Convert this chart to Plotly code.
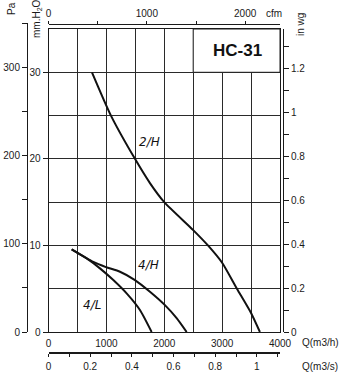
import plotly.graph_objects as go

# ---------------- data (flow Q in m3/h, pressure in mm H2O) ----------------
q_2H = [751, 1079, 1494, 1753, 2000, 2496, 2755, 3000, 3256, 3500, 3653]
p_2H = [30.0, 25.0, 20.0, 17.2, 15.0, 11.8, 10.0, 8.0, 5.0, 2.2, 0.0]

q_4H = [400, 774, 993, 1235, 1494, 1753, 2012, 2214, 2387]
p_4H = [9.55, 8.1, 7.5, 6.96, 6.0, 4.65, 3.1, 1.6, 0.0]

q_4L = [400, 660, 889, 1120, 1350, 1580, 1782]
p_4L = [9.55, 8.5, 7.35, 6.0, 4.46, 2.54, 0.0]

curve_names = ["2/H", "4/H", "4/L"]
label_pos = {"2/H": (1750, 22.0), "4/H": (1733, 7.7), "4/L": (759, 3.1)}

model = "HC-31"

q_ticks = [0, 1000, 2000, 3000, 4000]
mm_ticks = [0, 10, 20, 30]
pa_ticks = [0, 100, 200, 300]
inwg_ticks = [0, 0.2, 0.4, 0.6, 0.8, 1, 1.2]
cfm_vals = [0, 500, 1000, 1500, 2000]
cfm_text = ["0", "", "1000", "", "2000"]
m3s_vals = [0, 0.1, 0.2, 0.3, 0.4, 0.5, 0.6, 0.7, 0.8, 0.9, 1.0, 1.1]
m3s_text = ["0", "", "0.2", "", "0.4", "", "0.6", "", "0.8", "", "1", ""]

Q_MAX = 4000
MM_MAX = 35
MM_PER_PA = 1 / 9.80665
MM_PER_INWG = 25.4
M3H_PER_CFM = 1.69901

# ---------------- layout helpers ----------------
W, H = 344, 374
L, R, T, B = 10, 40, 23, 21
PW, PH = W - L - R, H - T - B


def px(x):
    return (x - L) / PW


def py(y):
    return (H - B - y) / PH


INK = "#1a1a1a"
GRID = "#2a2a2a"
FONT = "Liberation Sans"

fig = go.Figure()

for name, qs, ps in [("2/H", q_2H, p_2H), ("4/H", q_4H, p_4H), ("4/L", q_4L, p_4L)]:
    fig.add_trace(go.Scatter(x=qs, y=ps, mode="lines", line=dict(color="#111", width=2, shape="spline", smoothing=0.6),
                             name=name, showlegend=False, hoverinfo="skip"))

# dummy traces so every extra axis gets drawn
fig.add_trace(go.Scatter(x=[None], y=[None], xaxis="x2", yaxis="y", showlegend=False, hoverinfo="skip"))
fig.add_trace(go.Scatter(x=[None], y=[None], xaxis="x3", yaxis="y4", showlegend=False, hoverinfo="skip"))
fig.add_trace(go.Scatter(x=[None], y=[None], xaxis="x", yaxis="y2", showlegend=False, hoverinfo="skip"))
fig.add_trace(go.Scatter(x=[None], y=[None], xaxis="x4", yaxis="y3", showlegend=False, hoverinfo="skip"))

d_lo, d_hi = py(332), py(29)
pa_top = MM_MAX / MM_PER_PA * (1 - d_lo) / (d_hi - d_lo)
x_dom = [px(48.5), px(280)]

tick_font = dict(family=FONT, size=10, color=INK)

fig.update_layout(
    width=W, height=H,
    margin=dict(l=L, r=R, t=T, b=B, pad=0, autoexpand=False),
    paper_bgcolor="white", plot_bgcolor="rgba(0,0,0,0)",
    font=tick_font,
    xaxis=dict(domain=x_dom, range=[0, Q_MAX], anchor="y", automargin=False,
               tickmode="array", tickvals=q_ticks, ticks="", ticklabelstandoff=2,
               showgrid=True, gridcolor=GRID, gridwidth=1,
               minor=dict(dtick=500, tick0=0, showgrid=True, gridcolor=GRID, gridwidth=1),
               showline=True, linecolor=INK, linewidth=1, mirror=True, zeroline=False,
               tickfont=tick_font),
    yaxis=dict(domain=[d_lo, d_hi], range=[0, MM_MAX], anchor="x", automargin=False,
               tickmode="array", tickvals=mm_ticks, ticks="outside", ticklen=5, tickcolor=INK,
               showgrid=True, gridcolor=GRID, gridwidth=1,
               minor=dict(dtick=5, tick0=0, showgrid=True, gridcolor=GRID, gridwidth=1),
               showline=True, linecolor=INK, linewidth=1, mirror=True, zeroline=False,
               tickfont=tick_font),
    yaxis2=dict(overlaying="y", side="right", anchor="free", position=px(283), automargin=False,
                range=[0, MM_MAX / MM_PER_INWG], tickmode="array", tickvals=inwg_ticks,
                ticks="outside", ticklen=5, tickcolor=INK,
                minor=dict(dtick=0.1, tick0=0, ticks="outside", ticklen=5, tickcolor=INK),
                showgrid=False, zeroline=False, showline=True, linecolor=INK, linewidth=1,
                tickfont=tick_font),
    yaxis3=dict(domain=[d_lo, 1], range=[0, pa_top], anchor="free", position=px(27), side="left",
                automargin=False,
                tickmode="array", tickvals=pa_ticks, ticks="outside", ticklen=5, tickcolor=INK,
                minor=dict(dtick=50, tick0=0, ticks="outside", ticklen=5, tickcolor=INK),
                showgrid=False, zeroline=False, showline=True, linecolor=INK, linewidth=1,
                tickfont=tick_font),
    xaxis2=dict(overlaying="x", side="top", anchor="free", position=py(24), automargin=False,
                range=[0, Q_MAX / M3H_PER_CFM], tickmode="array", tickvals=cfm_vals, ticktext=cfm_text,
                ticks="outside", ticklen=3, tickcolor=INK,
                showgrid=False, zeroline=False, showline=True, linecolor=INK, linewidth=1,
                tickfont=tick_font),
    xaxis3=dict(domain=x_dom, anchor="y4", side="bottom", automargin=False,
                range=[0, Q_MAX / 3600], tickmode="array", tickvals=m3s_vals, ticktext=m3s_text,
                ticks="outside", ticklen=3, tickcolor=INK, tickwidth=1.2, ticklabelstandoff=1,
                showgrid=False, zeroline=False, showline=True, linecolor=INK, linewidth=1.5,
                tickfont=tick_font),
    yaxis4=dict(domain=[py(352), py(348)], anchor="x3", visible=False, range=[0, 1],
                showgrid=False, zeroline=False),
    xaxis4=dict(domain=x_dom, anchor="y3", visible=False, range=[0, 1]),
)

# white model box in upper-right corner
fig.add_shape(type="rect", xref="x", yref="y", x0=2500, x1=Q_MAX, y0=30, y1=MM_MAX,
              fillcolor="white", line=dict(color=INK, width=1), layer="above")
fig.add_annotation(x=3260, y=32.5, xref="x", yref="y", text="<b>" + model + "</b>", showarrow=False,
                   font=dict(family=FONT, size=17, color="#111"))

for n in curve_names:
    lx, ly = label_pos[n]
    fig.add_annotation(x=lx, y=ly, xref="x", yref="y", text="<i>" + n + "</i>", showarrow=False,
                       font=dict(family="DejaVu Sans", size=12, color="#111"))

axis_titles = [
    ("Pa", 12, 9, -90),
    ("mm.H<sub>2</sub>O", 37, 19, -90),
    ("in wg", 300, 25, -90),
    ("cfm", 274, 14, 0),
    ("Q(m3/h)", 320, 342, 0),
    ("Q(m3/s)", 320, 366, 0),
]
for txt, xx, yy, ang in axis_titles:
    fig.add_annotation(x=px(xx), y=py(yy), xref="paper", yref="paper", text=txt, showarrow=False,
                       textangle=ang, font=tick_font, xanchor="center", yanchor="middle")

fig.write_html("out.html")
